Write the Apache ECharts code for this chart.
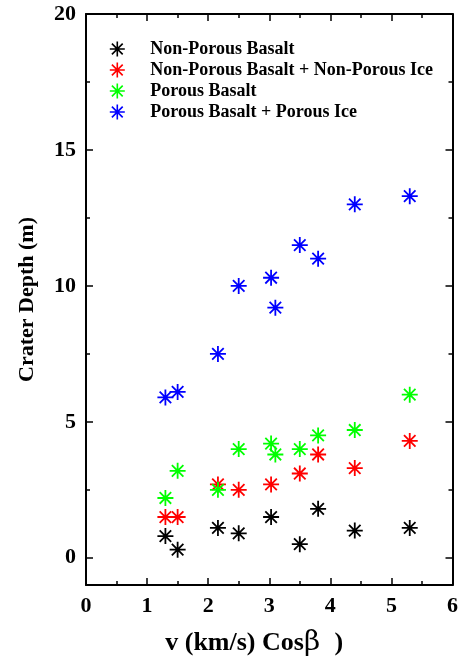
<!DOCTYPE html>
<html><head><meta charset="utf-8">
<script src="https://cdn.jsdelivr.net/npm/echarts@6/dist/echarts.min.js"></script>
<style>html,body{margin:0;padding:0;background:#fff}#c{width:461px;height:662px}</style>
</head><body><div id="c"></div>
<script>
var seriesNames = ['Non-Porous Basalt','Non-Porous Basalt + Non-Porous Ice','Porous Basalt','Porous Basalt + Porous Ice'];
var seriesColors = ['#000000','#ff0000','#00ff00','#0000ff'];
var xNonPorous = [1.3,1.5,2.16,2.5,3.03,3.5,3.8,4.4,5.3];
var yNonPorousBasalt = [0.8,0.3,1.1,0.9,1.5,0.5,1.8,1.0,1.1];
var yNonPorousBasaltIce = [1.5,1.5,2.7,2.5,2.7,3.1,3.8,3.3,4.3];
var xPorous = [1.3,1.5,2.16,2.5,3.03,3.1,3.5,3.8,4.4,5.3];
var yPorousBasalt = [2.2,3.2,2.5,4.0,4.2,3.8,4.0,4.5,4.7,6.0];
var yPorousBasaltIce = [5.9,6.1,7.5,10.0,10.3,9.2,11.5,11.0,13.0,13.3];
var xTicks = [0,1,2,3,4,5,6];
var yTicks = [0,5,10,15,20];
var yMinorTicks = [2.5,7.5,12.5,17.5];

function pairs(xs, ys){ return xs.map(function(x,i){return [x, ys[i]];}); }
var star = 'path://M0,-1L0,1M-1,0L1,0M-0.72,-0.72L0.72,0.72M-0.72,0.72L0.72,-0.72';
var font = 'Liberation Serif';
var seriesData = [pairs(xNonPorous,yNonPorousBasalt), pairs(xNonPorous,yNonPorousBasaltIce), pairs(xPorous,yPorousBasalt), pairs(xPorous,yPorousBasaltIce)];

var chart = echarts.init(document.getElementById('c'), null, {renderer:'canvas'});
var lbl = {fontFamily:font, fontWeight:'bold', fontSize:22, color:'#000'};
function xAx(pos, showLabel, extra){
  return Object.assign({type:'value', min:0, max:6, interval:1, position:pos,
    axisLine:{show:true, onZero:false, lineStyle:{color:'#000', width:2}},
    axisTick:{show:true, inside:true, length:7, lineStyle:{color:'#000', width:1.5}},
    minorTick:{show:true, splitNumber:2, length:4, lineStyle:{color:'#000', width:1.5}},
    splitLine:{show:false},
    axisLabel: showLabel ? Object.assign({margin:10, customValues:xTicks}, lbl) : {show:false}
  }, extra || {});
}
function yAx(pos, ticks, len, showLine, showLabel, extra){
  return Object.assign({type:'value', min:-1, max:20, position:pos,
    axisLine:{show:showLine, onZero:false, lineStyle:{color:'#000', width:2}},
    axisTick:{show:true, inside:true, length:len, customValues:ticks, lineStyle:{color:'#000', width:1.5}},
    splitLine:{show:false},
    axisLabel: showLabel ? Object.assign({margin:10, customValues:ticks}, lbl) : {show:false}
  }, extra || {});
}
chart.setOption({
  animation:false,
  backgroundColor:'#fff',
  grid:{left:86, right:6, top:14, bottom:76},
  legend:{
    orient:'vertical', left:104, top:35, itemGap:3,
    itemWidth:56, itemHeight:15, symbolKeepAspect:true,
    textStyle:{fontFamily:font, fontWeight:'bold', fontSize:18, color:'#000'},
    data: seriesNames.map(function(n,i){return {name:n, icon:star, itemStyle:{color:seriesColors[i], borderColor:seriesColors[i], borderWidth:1.6}};})
  },
  xAxis:[
    xAx('bottom', true, {name:'v (km/s) Cos{b|β} )', nameLocation:'middle', nameGap:44,
      nameTextStyle:{fontFamily:font, fontWeight:'bold', fontSize:26, color:'#000', padding:[0,30,0,0],
        rich:{b:{fontFamily:'DejaVu Serif', fontWeight:'normal', fontSize:28, color:'#000', padding:[0,8,0,0]}}}}),
    xAx('top', false)
  ],
  yAxis:[
    yAx('left', yTicks, 7, true, true, {name:'Crater Depth (m)', nameLocation:'middle', nameGap:48,
      nameTextStyle:{fontFamily:font, fontWeight:'bold', fontSize:22, color:'#000'}}),
    yAx('right', yTicks, 7, true, false),
    yAx('left', yMinorTicks, 4, false, false),
    yAx('right', yMinorTicks, 4, false, false)
  ],
  series: seriesData.map(function(d,i){
    return {name:seriesNames[i], type:'scatter', data:d, symbol:star, symbolSize:16,
      itemStyle:{color:seriesColors[i], borderColor:seriesColors[i], borderWidth:1.8, opacity:1},
      emphasis:{disabled:true}};
  })
});
</script></body></html>
